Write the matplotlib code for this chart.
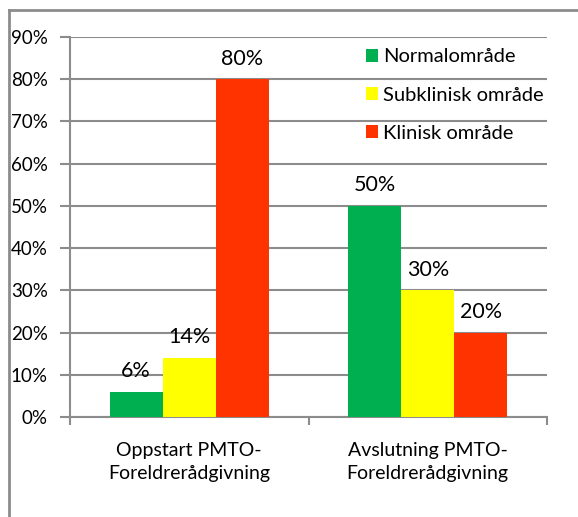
import matplotlib
matplotlib.use("Agg")
import matplotlib.pyplot as plt
from matplotlib.lines import Line2D
from matplotlib.ticker import FixedLocator, NullFormatter
import numpy as np

plt.rcParams['font.family'] = ['Lato', 'DejaVu Sans']

categories = ["Oppstart PMTO-\nForeldrerådgivning", "Avslutning PMTO-\nForeldrerådgivning"]
series_names = ["Normalområde", "Subklinisk område", "Klinisk område"]
normal = [6, 50]
subklinisk = [14, 30]
klinisk = [80, 20]
yticks = [0, 10, 20, 30, 40, 50, 60, 70, 80, 90]

colors = ["#00B050", "#FFFF00", "#FF3300"]
W, H = 578, 517
fig = plt.figure(figsize=(W / 100, H / 100), dpi=100)
ax = fig.add_axes([70 / W, 1 - 417 / H, (547 - 70) / W, (417 - 37) / H])

grid_c = "#8c8c8c"
x = np.arange(len(categories)) + 0.5
bw = 53 / 238.5
for i, (vals, name) in enumerate(zip([normal, subklinisk, klinisk], series_names)):
    bars = ax.bar(x + (i - 1) * bw, vals, width=bw, color=colors[i], label=name, zorder=3)
    ax.bar_label(bars, labels=[f"{v}%" for v in vals], padding=7.5, fontsize=15.5, color="black")

ax.set_xlim(0, 2)
ax.set_ylim(0, 90)
ax.set_yticks(yticks)
ax.set_yticklabels([f"{v}%" for v in yticks], fontsize=13.5)
ax.yaxis.grid(True, color=grid_c, linewidth=1.5, zorder=0)
ax.set_axisbelow(True)
ax.tick_params(axis='y', length=7, width=1.5, color=grid_c, pad=9)

ax.xaxis.set_major_locator(FixedLocator([0, 1, 2]))
ax.xaxis.set_major_formatter(NullFormatter())
ax.xaxis.set_minor_locator(FixedLocator(list(x)))
ax.set_xticklabels(categories, minor=True, fontsize=14, linespacing=1.42)
ax.tick_params(axis='x', which='major', length=6, width=1.5, color=grid_c)
ax.tick_params(axis='x', which='minor', length=0, pad=18)

for s in ["top", "right"]:
    ax.spines[s].set_visible(False)
for s in ["left", "bottom"]:
    ax.spines[s].set_color(grid_c)
    ax.spines[s].set_linewidth(1.5)

leg = ax.legend(loc="upper left", bbox_to_anchor=(0.621, 0.97), frameon=False,
                fontsize=14.5, handlelength=0.6, handleheight=0.6, handletextpad=0.22,
                labelspacing=1.05, borderpad=0, borderaxespad=0)

fig.add_artist(Line2D([9 / W, 9 / W], [0, 1 - 10 / H], color=grid_c, linewidth=2))
fig.add_artist(Line2D([9 / W, 1], [1 - 10 / H, 1 - 10 / H], color=grid_c, linewidth=2))

fig.savefig("out.png", dpi=100)
